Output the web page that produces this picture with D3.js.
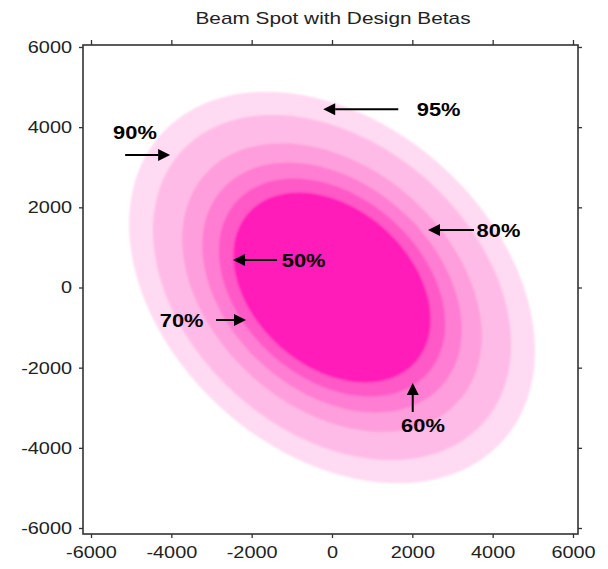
<!DOCTYPE html>
<html>
<head>
<meta charset="utf-8">
<script src="https://cdn.jsdelivr.net/npm/d3@7"></script>
<style>
  body { margin: 0; background: #fff; }
  svg { display: block; }
</style>
</head>
<body>
<svg width="608" height="569"></svg>
<script>
// contour levels, outermost first (semi axes in beam units)
var levels    = ["95%", "90%", "80%", "70%", "60%", "50%"];
var semiMajor = [5720, 5060, 4240, 3670, 3200, 2790];
var semiMinor = [4080, 3580, 2980, 2580, 2250, 1960];
var colors    = ["#ffdaf2", "#ffbbe7", "#ff9edc", "#ff7dd2", "#ff58c7", "#ff1cb8"];
var tiltDeg   = -42;

var ticks = [-6000, -4000, -2000, 0, 2000, 4000, 6000];

// label annotations: arrow tail -> tip, text anchor point
var annLabels = ["95%", "90%", "80%", "50%", "70%", "60%"];
var annTip    = [[-220, 4450], [-4030, 3306], [2390, 1435], [-2465, 686], [-2141, -811], [2010, -2383]];
var annTail   = [[1650, 4450], [-5150, 3306], [3535, 1435], [-1369, 686], [-2888, -811], [2010, -3106]];
var annText   = [[2110, 4450], [-5450, 3880], [3600, 1435], [-1250, 686], [-3200, -811], [2265, -3440]];
var annAnchor = ["start", "start", "start", "start", "end", "middle"];

var svg = d3.select("svg");

var x = d3.scaleLinear().domain([-6000, 6000]).range([91, 573]);
var y = d3.scaleLinear().domain([-6000, 6000]).range([528, 47]);

// frame sits a little outside the data range
var fLeft = x(-6000) - 8, fRight = x(6000) + 5,
    fTop = y(6000) - 2, fBottom = y(-6000) + 6;

// soft edges like the original raster
var defs = svg.append("defs");
defs.append("filter").attr("id", "soft")
    .append("feGaussianBlur").attr("stdDeviation", 0.8);

// ellipse outline in data units
function ellipsePts(a, b) {
  var phi = tiltDeg * Math.PI / 180, pts = [];
  for (var i = 0; i < 180; i++) {
    var t = i / 180 * 2 * Math.PI;
    pts.push([a * Math.cos(t) * Math.cos(phi) - b * Math.sin(t) * Math.sin(phi),
              a * Math.cos(t) * Math.sin(phi) + b * Math.sin(t) * Math.cos(phi)]);
  }
  return pts;
}

var line = d3.line()
    .x(function(d) { return x(d[0]); })
    .y(function(d) { return y(d[1]); })
    .curve(d3.curveLinearClosed);

svg.append("g").attr("filter", "url(#soft)")
  .selectAll("path")
  .data(levels)
  .enter().append("path")
    .attr("d", function(d, i) { return line(ellipsePts(semiMajor[i], semiMinor[i])); })
    .attr("fill", function(d, i) { return colors[i]; });

// frame
svg.append("rect")
    .attr("x", fLeft).attr("y", fTop)
    .attr("width", fRight - fLeft).attr("height", fBottom - fTop)
    .attr("fill", "none").attr("stroke", "#333").attr("stroke-width", 1.6);

function styleAxis(g) {
  g.select(".domain").remove();
  g.selectAll(".tick line").attr("stroke", "#333").attr("stroke-width", 1.3);
  g.selectAll(".tick text")
   .attr("font-family", "Liberation Sans, Arial, sans-serif")
   .attr("font-size", 17).attr("fill", "#222");
}
var fmt = function(d) { return String(d); };

svg.append("g").attr("transform", "translate(0," + fTop + ")")
   .call(d3.axisTop(x).tickValues(ticks).tickSize(5).tickFormat(""))
   .call(styleAxis);
svg.append("g").attr("transform", "translate(" + fRight + ",0)")
   .call(d3.axisRight(y).tickValues(ticks).tickSize(4).tickFormat(""))
   .call(styleAxis);

var xAxis = svg.append("g").attr("transform", "translate(0," + fBottom + ")")
   .call(d3.axisBottom(x).tickValues(ticks).tickSize(4).tickPadding(8).tickFormat(fmt))
   .call(styleAxis);
var yAxis = svg.append("g").attr("transform", "translate(" + fLeft + ",0)")
   .call(d3.axisLeft(y).tickValues(ticks).tickSize(4).tickPadding(7).tickFormat(fmt))
   .call(styleAxis);

// widen the tick text a bit, the original font is broader
xAxis.selectAll(".tick text").attr("transform", "scale(1.17,1)");
yAxis.selectAll(".tick text")
   .attr("x", -11 / 1.17)
   .attr("transform", "scale(1.17,1)");

// title
svg.append("text")
   .attr("transform", "translate(" + (x(0) + 1) + ",24) scale(1.3,1)")
   .attr("text-anchor", "middle")
   .attr("font-family", "Liberation Sans, Arial, sans-serif")
   .attr("font-size", 16).attr("fill", "#222")
   .text("Beam Spot with Design Betas");

// arrows + labels
var ann = svg.append("g");
annLabels.forEach(function(lab, i) {
  var tx = x(annTip[i][0]), ty = y(annTip[i][1]),
      sx = x(annTail[i][0]), sy = y(annTail[i][1]);
  var dx = tx - sx, dy = ty - sy, len = Math.sqrt(dx * dx + dy * dy);
  var ux = dx / len, uy = dy / len, hl = 12, hw = 6;
  var bx = tx - ux * hl, by = ty - uy * hl;
  ann.append("line")
     .attr("x1", sx).attr("y1", sy).attr("x2", bx).attr("y2", by)
     .attr("stroke", "#000").attr("stroke-width", 2);
  ann.append("path")
     .attr("d", "M" + tx + "," + ty +
                "L" + (bx - uy * hw) + "," + (by + ux * hw) +
                "L" + (bx + uy * hw) + "," + (by - ux * hw) + "Z")
     .attr("fill", "#000");
  ann.append("text")
     .attr("transform", "translate(" + x(annText[i][0]) + "," + y(annText[i][1]) + ") scale(1.15,1)")
     .attr("text-anchor", annAnchor[i])
     .attr("dy", "0.36em")
     .attr("font-family", "Liberation Sans, Arial, sans-serif")
     .attr("font-weight", "bold")
     .attr("font-size", 19).attr("fill", "#000")
     .text(lab);
});
</script>
</body>
</html>
